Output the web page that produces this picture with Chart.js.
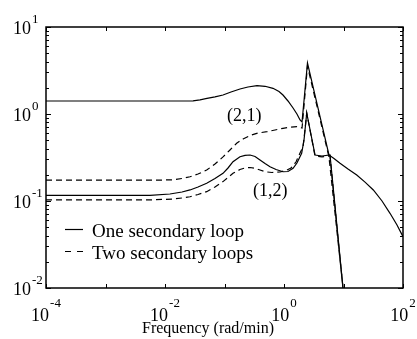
<!DOCTYPE html>
<html>
<head>
<meta charset="utf-8">
<script src="https://cdn.jsdelivr.net/npm/chart.js@4/dist/chart.umd.min.js"></script>
<style>
html, body { margin: 0; padding: 0; background: #fff; }
</style>
</head>
<body>
<canvas id="chart" width="417" height="339"></canvas>
<script>
// (2,1) element, one secondary loop (solid)
const freq21One = [1e-4, 0.0217, 0.0296, 0.0387, 0.0508, 0.0692, 0.0944, 0.1285, 0.182, 0.248, 0.352, 0.48, 0.653, 0.824, 0.961, 1.167, 1.42, 1.65, 1.86, 2.01,
  2.48, 5.70, 6.92, 8.74, 11.9, 16.7, 23.0, 31.7, 44.4, 60.5, 79.3, 100];
const mag21One  = [1.41, 1.41, 1.418, 1.456, 1.515, 1.577, 1.653, 1.79, 1.939, 2.043, 2.115, 2.082, 1.974, 1.814, 1.653, 1.411, 1.172, 1.0, 0.853, 0.809,
  3.86, 0.338, 0.308, 0.271, 0.233, 0.199, 0.165, 0.134, 0.1, 0.0722, 0.053, 0.0389];

// (2,1) element, two secondary loops (dashed)
const freq21Two = [1e-4, 0.00824, 0.0136, 0.0193, 0.0263, 0.0359, 0.0502, 0.0692, 0.0944, 0.1236, 0.160, 0.205, 0.269, 0.366, 0.517, 0.707, 0.961, 1.26, 1.65, 2.01,
  2.48, 5.70, 9.81, 11.0];
const mag21Two  = [0.174, 0.174, 0.1754, 0.1814, 0.190, 0.204, 0.227, 0.266, 0.321, 0.386, 0.461, 0.516, 0.566, 0.605, 0.626, 0.655, 0.685, 0.703, 0.715, 0.690,
  3.56, 0.321, 0.01, 0.005];

// (1,2) element, one secondary loop (solid)
const freq12One = [1e-4, 0.0056, 0.0121, 0.0193, 0.0263, 0.0359, 0.0502, 0.0692, 0.0944, 0.1146, 0.139, 0.182, 0.221, 0.269, 0.326, 0.395, 0.480, 0.582, 0.735,
  0.961, 1.167, 1.42, 1.65, 1.98, 2.17, 2.41, 3.32, 4.35, 5.93, 9.81, 11.0];
const mag12One  = [0.116, 0.116, 0.1203, 0.1269, 0.134, 0.145, 0.160, 0.1814, 0.208, 0.2396, 0.283, 0.323, 0.335, 0.338, 0.3247, 0.296, 0.270, 0.248, 0.230,
  0.217, 0.2184, 0.238, 0.2733, 0.353, 0.502, 1.027, 0.338, 0.329, 0.338, 0.01, 0.005];

// (1,2) element, two secondary loops (dashed)
const freq12Two = [1e-4, 0.0056, 0.0136, 0.0193, 0.0263, 0.0359, 0.0502, 0.0692, 0.0944, 0.1146, 0.139, 0.182, 0.221, 0.269, 0.326, 0.395, 0.480, 0.628, 0.857,
  1.081, 1.311, 1.59, 1.86, 2.09, 2.25, 2.41, 3.32, 4.35, 5.93, 9.81, 11.0];
const mag12Two  = [0.103, 0.103, 0.1054, 0.1083, 0.112, 0.1188, 0.128, 0.145, 0.167, 0.1862, 0.208, 0.230, 0.2396, 0.2427, 0.238, 0.227, 0.217, 0.2127, 0.2155,
  0.2242, 0.2396, 0.2806, 0.356, 0.421, 0.655, 1.027, 0.329, 0.321, 0.329, 0.0098, 0.0049];

const xDecades = [-4, -3, -2, -1, 0, 1, 2];
const xLabelDecades = [-4, -2, 0, 2];
const yDecades = [-2, -1, 0, 1];
const minorSteps = [1, 2, 3, 4, 5, 6, 7, 8, 9];
const legendLabels = ['One secondary loop', 'Two secondary loops'];
const curveLabels = [
  { text: '(2,1)', f: 0.11, m: 0.82 },
  { text: '(1,2)', f: 0.30, m: 0.115 }
];
const xTitle = 'Frequency (rad/min)';

const SERIF = '"Liberation Serif", "Times New Roman", serif';

function points(fs, ms) {
  return fs.map((f, i) => ({ x: f, y: ms[i] }));
}

function createDataset(fs, ms, dashed) {
  return {
    data: points(fs, ms),
    borderColor: '#000',
    borderWidth: 1.2,
    borderDash: dashed ? [6, 4] : [],
    pointRadius: 0,
    tension: 0,
    fill: false
  };
}

function drawPower(ctx, exp, left, base, expBase) {
  ctx.font = '18px ' + SERIF;
  ctx.fillText('10', left, base);
  const w = ctx.measureText('10').width;
  ctx.font = '13px ' + SERIF;
  ctx.fillText(exp, left + w + 1, expBase);
}

function powerWidth(ctx, exp) {
  ctx.font = '18px ' + SERIF;
  const w1 = ctx.measureText('10').width;
  ctx.font = '13px ' + SERIF;
  return w1 + 1 + ctx.measureText(exp).width;
}

const framePlugin = {
  id: 'frame',
  afterDraw(chart) {
    const ctx = chart.ctx;
    const a = chart.chartArea;
    const x = chart.scales.x;
    const y = chart.scales.y;
    ctx.save();
    ctx.strokeStyle = '#000';
    ctx.fillStyle = '#000';
    ctx.lineWidth = 1;
    ctx.setLineDash([]);

    // x ticks, top and bottom, decades only
    ctx.beginPath();
    xDecades.forEach(e => {
      const px = Math.round(x.getPixelForValue(Math.pow(10, e))) + 0.5;
      ctx.moveTo(px, a.bottom); ctx.lineTo(px, a.bottom - 4);
      ctx.moveTo(px, a.top); ctx.lineTo(px, a.top + 4);
    });
    // y ticks, left and right, with minor ones
    yDecades.forEach(e => {
      minorSteps.forEach(s => {
        const v = s * Math.pow(10, e);
        if (v > y.max * 1.0001) return;
        const py = Math.round(y.getPixelForValue(v)) + 0.5;
        const len = s === 1 ? 5 : 3;
        ctx.moveTo(a.left, py); ctx.lineTo(a.left + len, py);
        ctx.moveTo(a.right, py); ctx.lineTo(a.right - len, py);
      });
    });
    ctx.stroke();

    ctx.lineWidth = 1.5;
    ctx.strokeRect(a.left, a.top, a.right - a.left, a.bottom - a.top);

    // tick labels
    ctx.textBaseline = 'alphabetic';
    ctx.textAlign = 'left';
    yDecades.forEach(e => {
      const py = y.getPixelForValue(Math.pow(10, e));
      drawPower(ctx, String(e), 13, py + 7, py - 4.5);
    });
    xLabelDecades.forEach(e => {
      const px = x.getPixelForValue(Math.pow(10, e));
      const w = powerWidth(ctx, String(e));
      drawPower(ctx, String(e), px - w / 2, 321, 307);
    });

    // axis title
    ctx.font = '16px ' + SERIF;
    ctx.textAlign = 'center';
    ctx.fillText(xTitle, 208, 333);

    // curve labels
    ctx.font = '18px ' + SERIF;
    ctx.textAlign = 'left';
    curveLabels.forEach(l => {
      ctx.fillText(l.text, x.getPixelForValue(l.f), y.getPixelForValue(l.m));
    });

    // legend
    ctx.lineWidth = 1.2;
    ctx.beginPath();
    ctx.moveTo(65, 229.5); ctx.lineTo(83, 229.5);
    ctx.stroke();
    ctx.setLineDash([6, 6]);
    ctx.beginPath();
    ctx.moveTo(65, 251.5); ctx.lineTo(83, 251.5);
    ctx.stroke();
    ctx.setLineDash([]);
    ctx.font = '19px ' + SERIF;
    ctx.fillText(legendLabels[0], 92, 236.5);
    ctx.fillText(legendLabels[1], 92, 258.5);
    ctx.restore();
  }
};

const datasets = [
  createDataset(freq21One, mag21One, false),
  createDataset(freq21Two, mag21Two, true),
  createDataset(freq12One, mag12One, false),
  createDataset(freq12Two, mag12Two, true)
];

const ctx = document.getElementById('chart').getContext('2d');
new Chart(ctx, {
  type: 'line',
  data: { datasets: datasets },
  options: {
    responsive: false,
    animation: false,
    devicePixelRatio: 1,
    layout: { padding: { left: 46, top: 27, right: 14, bottom: 51 } },
    scales: {
      x: { type: 'logarithmic', min: 1e-4, max: 100, display: false },
      y: { type: 'logarithmic', min: 0.01, max: 10, display: false }
    },
    plugins: {
      legend: { display: false },
      tooltip: { enabled: false }
    }
  },
  plugins: [framePlugin]
});
</script>
</body>
</html>
